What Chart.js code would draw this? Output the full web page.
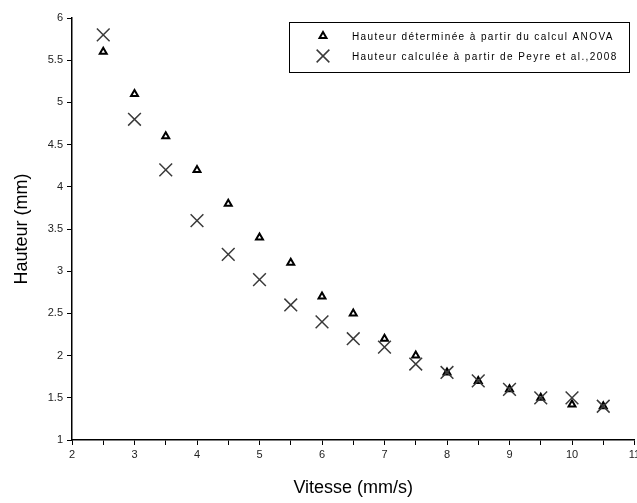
<!DOCTYPE html>
<html lang="fr">
<head>
<meta charset="UTF-8">
<title>Hauteur vs Vitesse</title>
<script src="https://cdn.jsdelivr.net/npm/chart.js"></script>
<style>
  html, body { margin: 0; padding: 0; background: #fff; overflow: hidden; }
</style>
</head>
<body>
<!-- a bit wider than the window so the "11" tick label gets cut like in the original -->
<canvas id="chart" width="645" height="503"></canvas>
<script>
// data
const vitesse = [2.5, 3, 3.5, 4, 4.5, 5, 5.5, 6, 6.5, 7, 7.5, 8, 8.5, 9, 9.5, 10, 10.5];
const hauteurAnova = [5.6, 5.1, 4.6, 4.2, 3.8, 3.4, 3.1, 2.7, 2.5, 2.2, 2.0, 1.8, 1.7, 1.6, 1.5, 1.42, 1.4];
const hauteurPeyre = [5.8, 4.8, 4.2, 3.6, 3.2, 2.9, 2.6, 2.4, 2.2, 2.1, 1.9, 1.8, 1.7, 1.6, 1.5, 1.5, 1.4];
const labelAnova = 'Hauteur déterminée à partir du calcul ANOVA';
const labelPeyre = 'Hauteur calculée à partir de Peyre et al.,2008';

const FONT = 'Arial, "Liberation Sans", sans-serif';

function pts(xs, ys) {
  return xs.map((x, i) => ({ x: x, y: ys[i] }));
}

// legend box drawn by hand, Chart.js legend can't do the framed Origin style
const frameLegend = {
  id: 'frameLegend',
  afterDraw(chart) {
    const ctx = chart.ctx;
    const x0 = 289, y0 = 22, w = 340, h = 50;
    ctx.save();
    ctx.strokeStyle = '#000';
    ctx.lineWidth = 1;
    ctx.strokeRect(x0 + 0.5, y0 + 0.5, w, h);
    ctx.font = '10px ' + FONT;
    ctx.letterSpacing = '1.4px';
    ctx.textBaseline = 'middle';
    chart.data.datasets.forEach((ds, i) => {
      const cy = y0 + 14 + i * 20;
      ctx.strokeStyle = ds.borderColor;
      ctx.fillStyle = ds.backgroundColor;
      ctx.lineWidth = ds.borderWidth;
      Chart.helpers.drawPoint(ctx, {
        pointStyle: ds.pointStyle,
        radius: ds.pointRadius,
        rotation: 0,
        borderWidth: ds.borderWidth
      }, 323, cy);
      ctx.fillStyle = '#000';
      ctx.fillText(ds.label, 352, cy + 1);
    });
    ctx.restore();
  }
};

new Chart(document.getElementById('chart'), {
  type: 'scatter',
  data: {
    datasets: [
      {
        label: labelAnova,
        data: pts(vitesse, hauteurAnova),
        pointStyle: 'triangle',
        pointRadius: 4,
        pointHoverRadius: 4,
        borderWidth: 2,
        borderColor: '#000',
        backgroundColor: '#fff',
        order: 2
      },
      {
        label: labelPeyre,
        data: pts(vitesse, hauteurPeyre),
        pointStyle: 'crossRot',
        pointRadius: 9,
        pointHoverRadius: 9,
        borderWidth: 1.5,
        borderColor: '#3a3a3a',
        backgroundColor: '#3a3a3a',
        order: 1
      }
    ]
  },
  options: {
    responsive: false,
    animation: false,
    layout: { padding: { top: 18, right: 3, left: 0, bottom: 0 } },
    plugins: {
      legend: { display: false },
      tooltip: { enabled: false }
    },
    scales: {
      x: {
        type: 'linear',
        min: 2,
        max: 11,
        border: { display: true, color: '#000', width: 1.5 },
        grid: { drawOnChartArea: false, tickLength: 5, color: '#000' },
        ticks: {
          stepSize: 0.5,
          autoSkip: false,
          maxRotation: 0,
          color: '#222',
          font: { family: FONT, size: 11 },
          padding: 3,
          callback: v => (Number.isInteger(v) ? String(v) : '')
        },
        title: {
          display: true,
          text: 'Vitesse (mm/s)',
          color: '#000',
          font: { family: FONT, size: 18 },
          padding: { top: 10, bottom: 4 }
        },
        afterFit(scale) { scale.height = 63; }
      },
      y: {
        type: 'linear',
        min: 1,
        max: 6,
        border: { display: true, color: '#000', width: 1.5 },
        grid: { drawOnChartArea: false, tickLength: 5, color: '#000' },
        ticks: {
          stepSize: 0.5,
          color: '#222',
          font: { family: FONT, size: 11 },
          padding: 4,
          callback: v => String(v)
        },
        title: {
          display: true,
          text: 'Hauteur (mm)',
          color: '#000',
          font: { family: FONT, size: 18 },
          padding: { top: 11, bottom: 4 }
        },
        afterFit(scale) { scale.width = 72; }
      }
    }
  },
  plugins: [frameLegend]
});
</script>
</body>
</html>
